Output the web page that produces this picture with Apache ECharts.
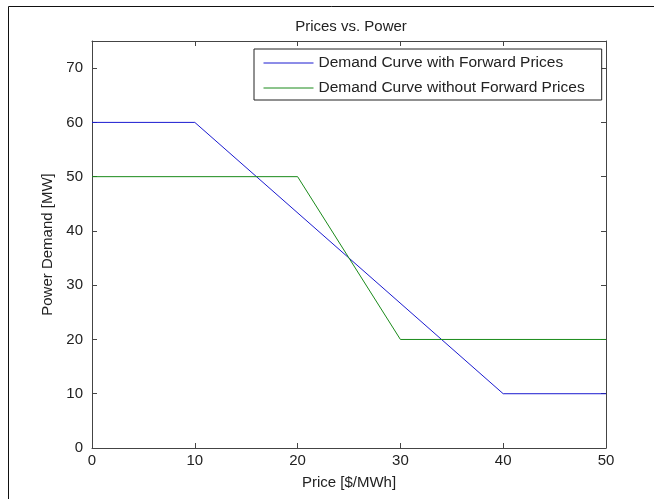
<!DOCTYPE html>
<html>
<head>
<meta charset="utf-8">
<script src="https://cdn.jsdelivr.net/npm/echarts@6/dist/echarts.min.js"></script>
<style>
html,body{margin:0;padding:0;background:#fff;}
#chart{width:654px;height:499px;}
</style>
</head>
<body>
<div id="chart"></div>
<script>
// Data
const titleText = 'Prices vs. Power';
const xName = 'Price [$/MWh]';
const yName = 'Power Demand [MW]';
const seriesNames = ['Demand Curve with Forward Prices', 'Demand Curve without Forward Prices'];
const withForwardX = [0, 10, 40, 50];
const withForwardY = [60, 60, 10, 10];
const withoutForwardX = [0, 20, 30, 50];
const withoutForwardY = [50, 50, 20, 20];
const xTicks = [0, 10, 20, 30, 40, 50];
const yTicks = [0, 10, 20, 30, 40, 50, 60, 70];

const FONT = 'Liberation Sans';
const AXIS_COLOR = '#444';
const TEXT_COLOR = '#222';

function pairs(xs, ys) { return xs.map((x, i) => [x, ys[i]]); }

const chart = echarts.init(document.getElementById('chart'), null, {renderer: 'canvas'});
const grid = {left: 92, right: 48, top: 41, bottom: 51, containLabel: false};

const baseAxis = {
  axisLine: {show: true, onZero: false, lineStyle: {color: AXIS_COLOR, width: 1}},
  axisTick: {show: true, inside: true, length: 5, lineStyle: {color: AXIS_COLOR}},
  splitLine: {show: false}
};

chart.setOption({
  animation: false,
  backgroundColor: '#fff',
  textStyle: {fontFamily: FONT},
  title: {
    text: titleText,
    left: 346, top: 14, textAlign: 'center',
    textStyle: {fontFamily: FONT, fontSize: 15, fontWeight: 'normal', color: TEXT_COLOR}
  },
  graphic: [{
    type: 'rect', silent: true, z: 0,
    shape: {x: 8.5, y: 6.5, width: 800, height: 700},
    style: {fill: 'none', stroke: '#111', lineWidth: 1}
  }],
  legend: {
    orient: 'vertical',
    left: 254, top: 49,
    padding: [6, 17, 4, 9],
    itemWidth: 50, itemHeight: 14, itemGap: 9,
    borderColor: '#222', borderWidth: 1,
    backgroundColor: '#fff',
    itemStyle: {opacity: 0, borderWidth: 0},
    lineStyle: {width: 1},
    textStyle: {fontFamily: FONT, fontSize: 15.5, color: TEXT_COLOR, lineHeight: 14},
    data: seriesNames
  },
  grid: grid,
  xAxis: [
    Object.assign({}, baseAxis, {
      type: 'value', min: xTicks[0], max: xTicks[xTicks.length - 1], interval: 10,
      position: 'bottom',
      name: xName, nameLocation: 'middle', nameGap: 27,
      nameTextStyle: {fontFamily: FONT, fontSize: 15, color: TEXT_COLOR},
      axisLabel: {show: true, margin: 5, fontFamily: FONT, fontSize: 15, color: TEXT_COLOR}
    }),
    Object.assign({}, baseAxis, {
      type: 'value', min: xTicks[0], max: xTicks[xTicks.length - 1], interval: 10,
      position: 'top',
      axisLabel: {show: false}
    })
  ],
  yAxis: [
    Object.assign({}, baseAxis, {
      type: 'value', min: 0, max: 75, interval: 10,
      position: 'left',
      name: yName, nameLocation: 'middle', nameGap: 33, nameRotate: 90,
      nameTextStyle: {fontFamily: FONT, fontSize: 15, color: TEXT_COLOR},
      axisLabel: {
        show: true, margin: 9, fontFamily: FONT, fontSize: 15, color: TEXT_COLOR,
        formatter: v => (yTicks.indexOf(v) >= 0 ? String(v) : '')
      }
    }),
    Object.assign({}, baseAxis, {
      type: 'value', min: 0, max: 75, interval: 10,
      position: 'right',
      axisLabel: {show: false}
    })
  ],
  series: [
    {
      name: seriesNames[0], type: 'line', xAxisIndex: 0, yAxisIndex: 0,
      data: pairs(withForwardX, withForwardY),
      symbol: 'none', lineStyle: {color: '#1a1ad0', width: 1}, itemStyle: {color: '#1a1ad0'}
    },
    {
      name: seriesNames[1], type: 'line', xAxisIndex: 0, yAxisIndex: 0,
      data: pairs(withoutForwardX, withoutForwardY),
      symbol: 'none', lineStyle: {color: '#1a8a1a', width: 1}, itemStyle: {color: '#1a8a1a'}
    }
  ]
});
</script>
</body>
</html>
